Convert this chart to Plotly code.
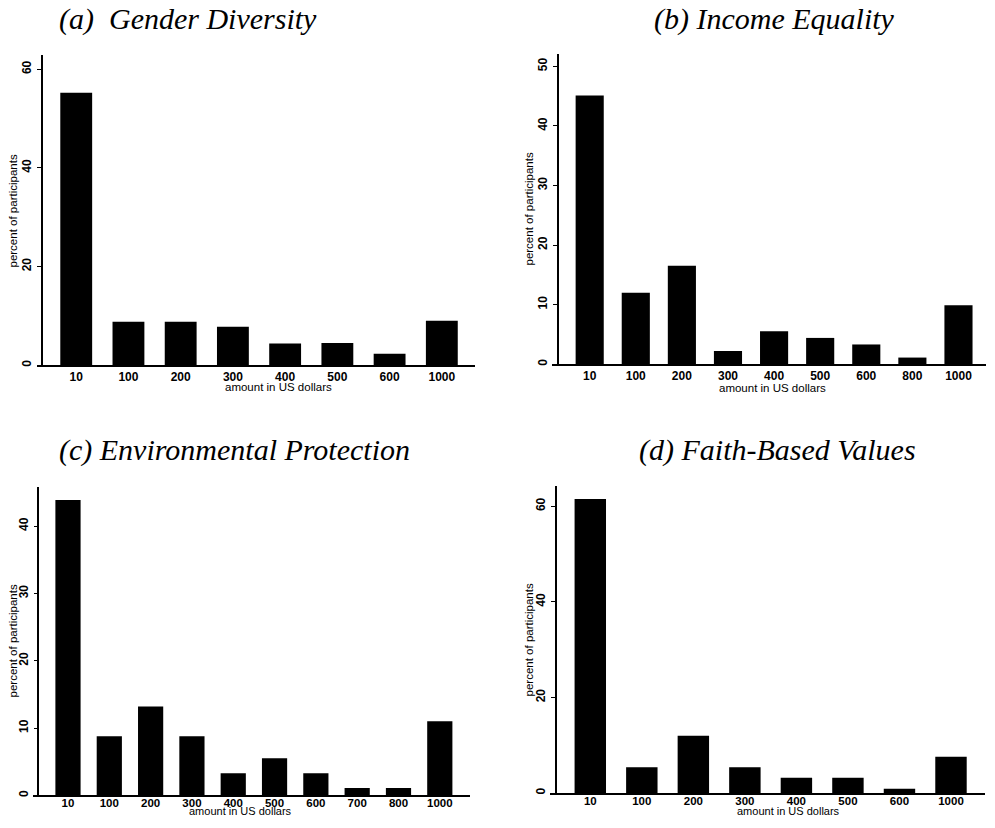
import plotly.graph_objects as go

# page body has an 8px margin: the figure is sized to fit inside the window
OFF = 8
W, H = 995 - 2 * OFF, 828 - 2 * OFF

# ---- data ----
cats_a = ["10", "100", "200", "300", "400", "500", "600", "1000"]
vals_a = [55.2, 8.8, 8.8, 7.8, 4.4, 4.5, 2.3, 9.0]

cats_b = ["10", "100", "200", "300", "400", "500", "600", "800", "1000"]
vals_b = [45.1, 12.0, 16.5, 2.2, 5.5, 4.4, 3.3, 1.1, 9.9]

cats_c = ["10", "100", "200", "300", "400", "500", "600", "700", "800", "1000"]
vals_c = [43.9, 8.8, 13.2, 8.8, 3.3, 5.5, 3.3, 1.1, 1.1, 11.0]

cats_d = ["10", "100", "200", "300", "400", "500", "600", "1000"]
vals_d = [61.5, 5.4, 12.0, 5.4, 3.2, 3.2, 0.9, 7.6]

titles = ["(a)  Gender Diversity", "(b) Income Equality",
          "(c) Environmental Protection", "(d) Faith-Based Values"]
xtitle = "amount in US dollars"
ytitle = "percent of participants"

yticks_a = [0, 20, 40, 60]
yticks_b = [0, 10, 20, 30, 40, 50]
yticks_c = [0, 10, 20, 30, 40]
yticks_d = [0, 20, 40, 60]

# ---- layout geometry (pixels in the window) ----
panels = [
    dict(c=cats_a, v=vals_a, yt=yticks_a, xdom=(37, 475), yaxpos=42, ydom=(366, 55),
         xr=(-0.751, 7.635), yr=(0, 62.9), title_xy=(57, 19), xt_xy=(278, 388),
         yt_xy=(13, 212), xstand=0, xfs=12),
    dict(c=cats_b, v=vals_b, yt=yticks_b, xdom=(551.7, 986), yaxpos=557.7, ydom=(365, 54),
         xr=(-0.824, 8.597), yr=(0, 52.1), title_xy=(652, 19), xt_xy=(772, 389),
         yt_xy=(529, 210), xstand=0, xfs=12),
    dict(c=cats_c, v=vals_c, yt=yticks_c, xdom=(33, 470), yaxpos=38.3, ydom=(797.3, 488.3),
         xr=(-0.847, 9.731), yr=(0, 45.8), title_xy=(57, 451), xt_xy=(240, None),
         yt_xy=(13, 643), xstand=-4, xfs=11.5),
    dict(c=cats_d, v=vals_d, yt=yticks_d, xdom=(550, 985), yaxpos=556, ydom=(795, 487.3),
         xr=(-0.782, 7.66), yr=(0, 64.2), title_xy=(637, 451), xt_xy=(788, None),
         yt_xy=(529, 642), xstand=-4, xfs=11.5),
]

def px_x(p):
    return (p - OFF) / W

def px_y(p):
    return 1 - (p - OFF) / H

fig = go.Figure()
annotations = []
layout = {}

def tick_font(size):
    return dict(family="Liberation Sans, Arial", size=size, color="black", weight="bold")

lab_font = dict(family="Liberation Sans, Arial", size=11.5, color="black")
lab_font_low = dict(family="Liberation Sans, Arial", size=11, color="black")

for i, p in enumerate(panels):
    n = "" if i == 0 else str(i + 1)
    xa, ya = "x" + n, "y" + n
    fig.add_trace(go.Bar(x=p["c"], y=p["v"], xaxis=xa, yaxis=ya,
                         marker=dict(color="black", line=dict(width=0)),
                         width=0.61, showlegend=False, hoverinfo="x+y"))
    layout["xaxis" + n] = dict(
        domain=[px_x(p["xdom"][0]), px_x(p["xdom"][1])],
        anchor=ya, type="category", range=list(p["xr"]),
        showline=True, linecolor="black", linewidth=1.5,
        ticks="", showgrid=False, zeroline=False,
        tickfont=tick_font(p["xfs"]), ticklabelstandoff=p["xstand"],
    )
    layout["yaxis" + n] = dict(
        domain=[px_y(p["ydom"][0]), px_y(p["ydom"][1])],
        anchor="free", position=px_x(p["yaxpos"]), range=list(p["yr"]),
        tickvals=p["yt"], ticktext=[str(t) for t in p["yt"]],
        showline=True, linecolor="black", linewidth=1.5,
        ticks="outside", ticklen=4, tickcolor="black", tickwidth=1,
        showgrid=False, zeroline=False, tickangle=-90,
        tickfont=tick_font(12), ticklabelstandoff=1,
    )
    annotations.append(dict(text=titles[i], xref="paper", yref="paper",
                            x=px_x(p["title_xy"][0]), y=px_y(p["title_xy"][1]),
                            xanchor="left", yanchor="middle", showarrow=False,
                            font=dict(family="Liberation Serif, Times New Roman", size=30,
                                      color="black", style="italic")))
    if p["xt_xy"][1] is None:
        # bottom row: sit the title on the lower edge of the figure
        annotations.append(dict(text=xtitle, xref="paper", yref="paper",
                                x=px_x(p["xt_xy"][0]), y=0,
                                xanchor="center", yanchor="bottom", showarrow=False,
                                borderpad=0, font=lab_font_low))
    else:
        annotations.append(dict(text=xtitle, xref="paper", yref="paper",
                                x=px_x(p["xt_xy"][0]), y=px_y(p["xt_xy"][1]),
                                xanchor="center", yanchor="middle", showarrow=False,
                                font=lab_font))
    annotations.append(dict(text=ytitle, xref="paper", yref="paper",
                            x=px_x(p["yt_xy"][0]), y=px_y(p["yt_xy"][1]),
                            xanchor="center", yanchor="middle", showarrow=False, textangle=-90,
                            font=lab_font))

fig.update_layout(
    width=W, height=H,
    margin=dict(l=0, r=0, t=0, b=0),
    paper_bgcolor="white", plot_bgcolor="white",
    bargap=0.39,
    annotations=annotations,
    **layout,
)

fig.write_html("out.html")
